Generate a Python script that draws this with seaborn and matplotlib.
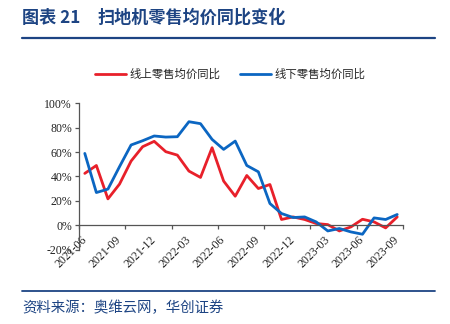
import numpy as np
import pandas as pd
import matplotlib
matplotlib.use("Agg")
import matplotlib.pyplot as plt
import seaborn as sns
from matplotlib.lines import Line2D

months = pd.period_range("2021-06", "2023-09", freq="M").strftime("%Y-%m").tolist()
online = [42.5, 49, 21.6, 33.7, 52.6, 64.4, 68.8, 60.3, 57.5, 44.4,
          39.2, 63.6, 36.2, 23.8, 40.8, 30.1, 33.4, 4.7, 6.8, 4.7,
          1.4, 0.5, -4.7, -1.4, 4.9, 2.7, -2.2, 6.8]
offline = [58.9, 26.8, 29.6, 48, 65.8, 69.3, 73.2, 72.3, 72.6, 84.9,
           83.3, 70.4, 62.2, 69, 49, 43.8, 17.8, 9.6, 6.3, 6.8,
           2.7, -4.7, -2.7, -5.5, -7.4, 6, 4.7, 8.8]
series_names = ["线上零售均价同比", "线下零售均价同比"]
yticks = [-20, 0, 20, 40, 60, 80, 100]

RED = "#E8202A"
BLUE = "#0B66C2"
NAVY = "#1D4483"

sns.set_theme(style="white")
plt.rcParams["font.family"] = ["Noto Sans CJK SC", "DejaVu Sans"]

df = pd.DataFrame({
    "idx": list(range(len(months))) * 2,
    "value": online + offline,
    "series": [series_names[0]] * len(months) + [series_names[1]] * len(months),
})

fig = plt.figure(figsize=(4.5, 3.24), dpi=100)
ax = fig.add_axes([79 / 450, 1 - 249.6 / 324, 324 / 450, (249.6 - 103.3) / 324])

sns.lineplot(data=df, x="idx", y="value", hue="series",
             palette=[RED, BLUE], linewidth=2.0, ax=ax, legend=False)

ax.set_xlim(-0.5, len(months) - 0.5)
ax.set_ylim(-20, 100)
ax.set_xlabel("")
ax.set_ylabel("")

for s in ["top", "right"]:
    ax.spines[s].set_visible(False)
ax.spines["bottom"].set_position(("data", 0))
for s in ["left", "bottom"]:
    ax.spines[s].set_color("#555555")
    ax.spines[s].set_linewidth(0.9)

serif = ["Liberation Serif", "DejaVu Serif"]
ax.set_yticks(yticks)
ax.set_yticklabels([f"{v}%" for v in yticks], fontfamily=serif, fontsize=8.5, color="#222222")
ax.tick_params(axis="y", direction="out", length=3, width=0.9, color="#555555", pad=2, left=True)

major = np.arange(-0.5, len(months), 4)
ax.set_xticks(major)
ax.set_xticklabels([""] * len(major))
lab_pos = list(range(0, len(months), 3))
ax.set_xticks(lab_pos, minor=True)
ax.set_xticklabels([months[i] for i in lab_pos], minor=True, rotation=45,
                   ha="right", va="center", rotation_mode="anchor",
                   fontfamily=serif, fontsize=8.5, color="#222222")
ax.tick_params(axis="x", which="major", direction="out", length=3, width=0.9,
               color="#555555", bottom=True)
ax.tick_params(axis="x", which="minor", length=0, pad=9, bottom=True)
ax.grid(False)

# legend
h1 = Line2D([], [], color=RED, lw=2.0)
h2 = Line2D([], [], color=BLUE, lw=2.0)
fig.legend([h1], [series_names[0]], loc="center left",
           bbox_to_anchor=(95 / 450, 1 - 74 / 324), frameon=False, fontsize=8.2,
           handlelength=2.7, handletextpad=0.3, borderaxespad=0, borderpad=0)
fig.legend([h2], [series_names[1]], loc="center left",
           bbox_to_anchor=(240 / 450, 1 - 74 / 324), frameon=False, fontsize=8.2,
           handlelength=2.7, handletextpad=0.3, borderaxespad=0, borderpad=0)

# title and decorations
fig.text(22 / 450, 1 - 18 / 324, "图表 21", fontsize=12.3, fontweight="bold",
         color=NAVY, va="center", ha="left")
fig.text(98 / 450, 1 - 18 / 324, "扫地机零售均价同比变化", fontsize=12.3,
         fontweight="bold", color=NAVY, va="center", ha="left")
fig.add_artist(Line2D([22 / 450, 435 / 450], [1 - 38 / 324] * 2, color=NAVY, lw=1.6))
fig.add_artist(Line2D([22 / 450, 435 / 450], [1 - 291 / 324] * 2, color=NAVY, lw=1.3))
fig.text(22 / 450, 1 - 308 / 324, "资料来源：奥维云网，华创证券", fontsize=10.4,
         color=NAVY, va="center", ha="left", style="italic")

fig.savefig("out.png", dpi=100)
